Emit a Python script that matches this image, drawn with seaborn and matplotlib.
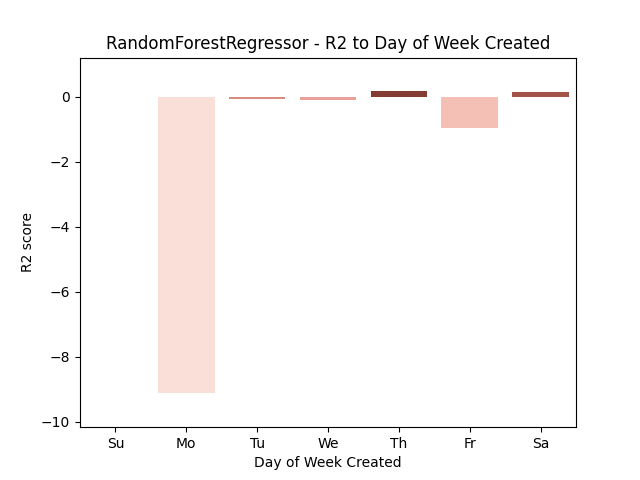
import matplotlib
matplotlib.use("Agg")
import matplotlib.pyplot as plt
import seaborn as sns
import pandas as pd

days = ["Su", "Mo", "Tu", "We", "Th", "Fr", "Sa"]
r2_scores = [0.0, -9.12, -0.06, -0.09, 0.16, -0.96, 0.15]
bar_colors = ["#c46a5e", "#fadfd9", "#d98b80", "#e8a297", "#843c32", "#f4c0b5", "#a25547"]

df = pd.DataFrame({"day": days, "r2": r2_scores})

fig, ax = plt.subplots(figsize=(6.4, 4.8), dpi=100)
sns.barplot(data=df, x="day", y="r2", hue="day", palette=bar_colors,
            saturation=1, legend=False, ax=ax, order=days)
ax.set_ylim(-10.17, 1.2)
ax.set_title("RandomForestRegressor - R2 to Day of Week Created")
ax.set_xlabel("Day of Week Created")
ax.set_ylabel("R2 score")
fig.savefig("out.png", dpi=100)
